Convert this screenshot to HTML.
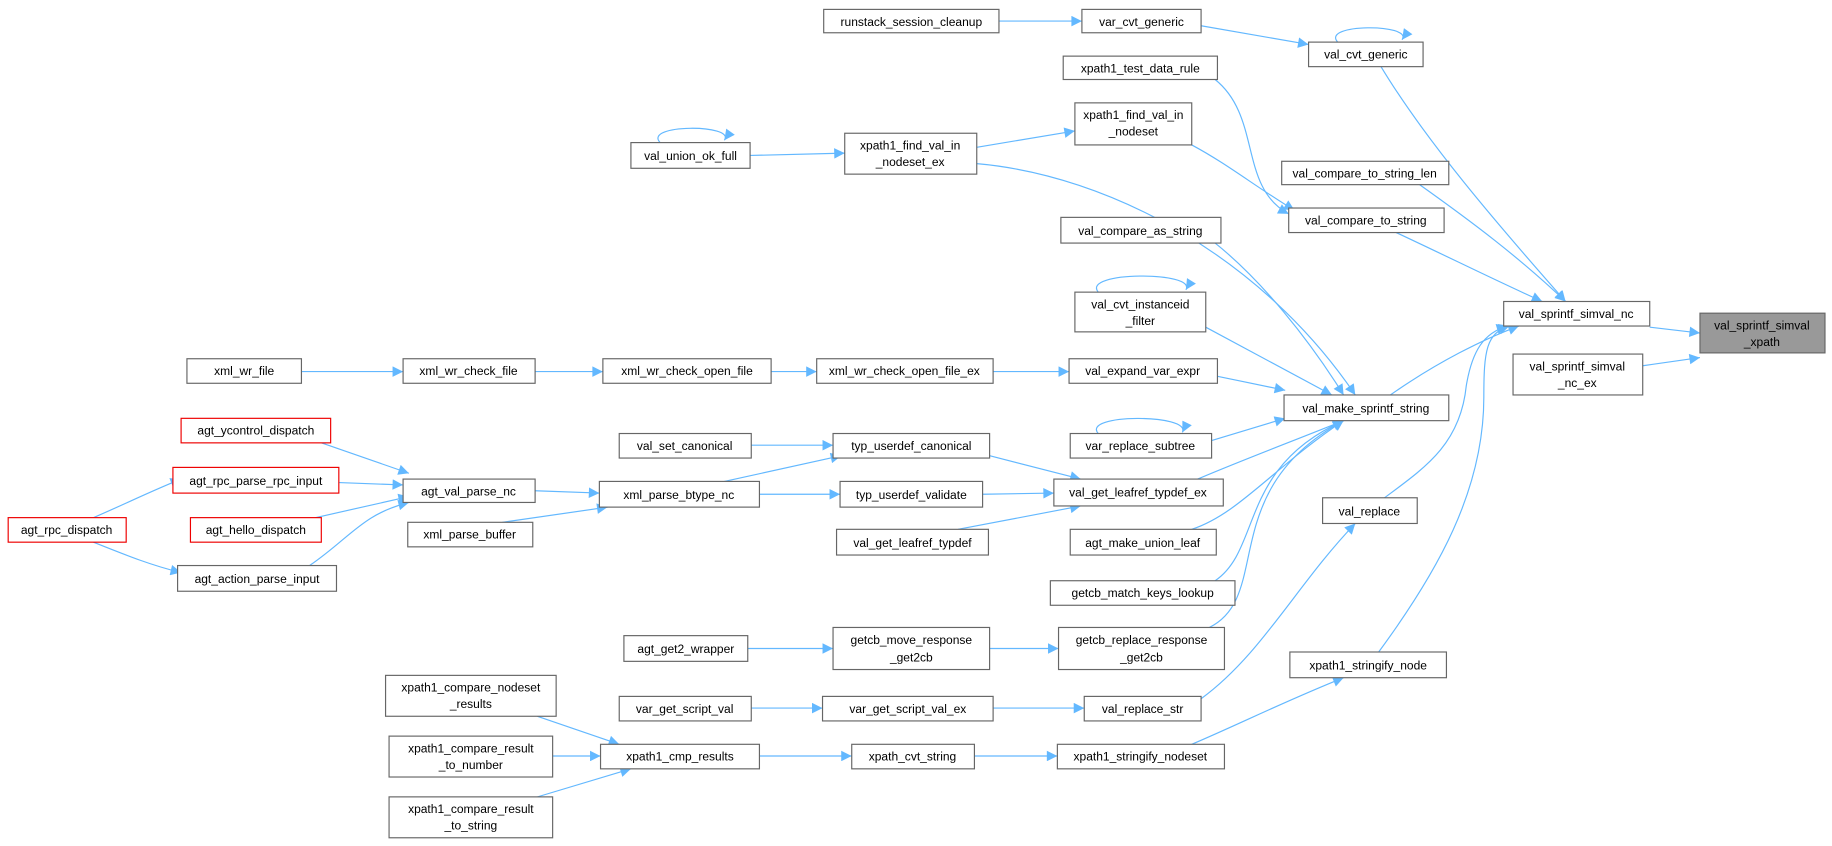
<!DOCTYPE html>
<html><head><meta charset="utf-8"><style>
html,body{margin:0;padding:0;background:#fff;width:1832px;height:846px;overflow:hidden}
svg text{font-family:"Liberation Sans",Arial,sans-serif;font-size:10.3px;fill:#000}
.n{fill:#fff;stroke:#666;stroke-width:1}
.r{fill:#fff;stroke:#e00;stroke-width:1}
.g{fill:#999;stroke:#666;stroke-width:1}
.e{fill:none;stroke:#63b8ff;stroke-width:1;marker-end:url(#a)}
</style></head><body>
<svg width="1832" height="846" viewBox="0 0 1568 724" xmlns="http://www.w3.org/2000/svg">
<defs><marker id="a" viewBox="0 0 10 10" refX="10" refY="5" markerWidth="12" markerHeight="9" markerUnits="userSpaceOnUse" orient="auto"><path d="M0,0L10,5L0,10z" fill="#63b8ff"/></marker></defs>
<g text-anchor="middle">
<path class="e" d="M855,18L926,18"/>
<path class="e" d="M1028,22L1120,38"/>
<path class="e" d="M1145,36C1130,20 1210,20 1200,34"/>
<path class="e" d="M1182,57C1220,120 1280,190 1340,258"/>
<path class="e" d="M1040,68C1080,100 1060,160 1103,183"/>
<path class="e" d="M1020,124C1050,140 1075,160 1108,180"/>
<path class="e" d="M565,122C550,106 630,106 620,120"/>
<path class="e" d="M642,133L723,131"/>
<path class="e" d="M836,126L920,112"/>
<path class="e" d="M836,140C950,150 1080,220 1160,338"/>
<path class="e" d="M1215,158C1260,190 1300,220 1340,258"/>
<path class="e" d="M1195,199C1240,220 1280,240 1320,258"/>
<path class="e" d="M1040,208C1080,240 1120,290 1150,338"/>
<path class="e" d="M940,250C925,232 1025,232 1015,248"/>
<path class="e" d="M1032,280L1140,338"/>
<path class="e" d="M1042,322L1100,334"/>
<path class="e" d="M940,371C925,354 1020,354 1012,370"/>
<path class="e" d="M1037,377L1100,358"/>
<path class="e" d="M1025,410C1060,395 1100,380 1150,360"/>
<path class="e" d="M1020,453C1060,440 1090,400 1150,360"/>
<path class="e" d="M1040,497C1080,470 1060,400 1150,360"/>
<path class="e" d="M1035,537C1090,510 1040,420 1150,360"/>
<path class="e" d="M1190,338C1230,310 1270,290 1300,279"/>
<path class="e" d="M1185,426C1220,400 1250,380 1255,330C1260,300 1270,285 1290,279"/>
<path class="e" d="M1180,558C1230,490 1270,420 1270,340C1270,300 1272,285 1292,279"/>
<path class="e" d="M1412,280L1455,285"/>
<path class="e" d="M1406,313L1455,306"/>
<path class="e" d="M258,318L345,318"/>
<path class="e" d="M458,318L516,318"/>
<path class="e" d="M660,318L699,318"/>
<path class="e" d="M850,318L915,318"/>
<path class="e" d="M275,379L350,405"/>
<path class="e" d="M290,413L345,415"/>
<path class="e" d="M270,443L350,425"/>
<path class="e" d="M265,484C300,460 310,440 350,430"/>
<path class="e" d="M80,443C110,430 130,420 155,410"/>
<path class="e" d="M80,464C110,476 130,484 155,490"/>
<path class="e" d="M458,420L513,422"/>
<path class="e" d="M430,447L520,434"/>
<path class="e" d="M643,381L713,381"/>
<path class="e" d="M620,412L720,390"/>
<path class="e" d="M650,423L719,423"/>
<path class="e" d="M847,390L925,410"/>
<path class="e" d="M841,423L902,422"/>
<path class="e" d="M820,453L925,433"/>
<path class="e" d="M640,555L713,555"/>
<path class="e" d="M847,555L906,555"/>
<path class="e" d="M1028,598C1080,560 1110,500 1160,448"/>
<path class="e" d="M643,606L704,606"/>
<path class="e" d="M850,606L928,606"/>
<path class="e" d="M460,613L530,637"/>
<path class="e" d="M473,647L514,647"/>
<path class="e" d="M460,682L540,658"/>
<path class="e" d="M650,647L729,647"/>
<path class="e" d="M834,647L905,647"/>
<path class="e" d="M1020,637C1060,620 1100,600 1150,580"/>
<rect class="n" x="705" y="8" width="150" height="20"/><text x="780" y="22">runstack_session_cleanup</text>
<rect class="n" x="926" y="8" width="102" height="20"/><text x="977" y="22">var_cvt_generic</text>
<rect class="n" x="1120" y="36" width="98" height="21"/><text x="1169" y="50">val_cvt_generic</text>
<rect class="n" x="910" y="48" width="132" height="20"/><text x="976" y="62">xpath1_test_data_rule</text>
<rect class="n" x="920" y="88" width="100" height="36"/><text x="970" y="102">xpath1_find_val_in</text><text x="970" y="116">_nodeset</text>
<rect class="n" x="540" y="122" width="102" height="22"/><text x="591" y="137">val_union_ok_full</text>
<rect class="n" x="723" y="114" width="113" height="35"/><text x="779" y="128">xpath1_find_val_in</text><text x="779" y="142">_nodeset_ex</text>
<rect class="n" x="1097" y="138" width="143" height="20"/><text x="1168" y="152">val_compare_to_string_len</text>
<rect class="n" x="1103" y="178" width="133" height="21"/><text x="1169" y="192">val_compare_to_string</text>
<rect class="n" x="908" y="186" width="137" height="22"/><text x="976" y="201">val_compare_as_string</text>
<rect class="n" x="920" y="250" width="112" height="34"/><text x="976" y="264">val_cvt_instanceid</text><text x="976" y="278">_filter</text>
<rect class="n" x="1287" y="258" width="125" height="21"/><text x="1349" y="272">val_sprintf_simval_nc</text>
<rect class="g" x="1455" y="268" width="107" height="34"/><text x="1508" y="282">val_sprintf_simval</text><text x="1508" y="296">_xpath</text>
<rect class="n" x="1295" y="303" width="111" height="35"/><text x="1350" y="317">val_sprintf_simval</text><text x="1350" y="331">_nc_ex</text>
<rect class="n" x="160" y="307" width="98" height="21"/><text x="209" y="321">xml_wr_file</text>
<rect class="n" x="345" y="307" width="113" height="21"/><text x="401" y="321">xml_wr_check_file</text>
<rect class="n" x="516" y="307" width="144" height="21"/><text x="588" y="321">xml_wr_check_open_file</text>
<rect class="n" x="699" y="307" width="151" height="21"/><text x="774" y="321">xml_wr_check_open_file_ex</text>
<rect class="n" x="915" y="307" width="127" height="21"/><text x="978" y="321">val_expand_var_expr</text>
<rect class="n" x="1099" y="338" width="141" height="22"/><text x="1169" y="353">val_make_sprintf_string</text>
<rect class="r" x="155" y="358" width="128" height="21"/><text x="219" y="372">agt_ycontrol_dispatch</text>
<rect class="n" x="530" y="371" width="113" height="21"/><text x="586" y="385">val_set_canonical</text>
<rect class="n" x="713" y="371" width="134" height="21"/><text x="780" y="385">typ_userdef_canonical</text>
<rect class="n" x="916" y="371" width="121" height="21"/><text x="976" y="385">var_replace_subtree</text>
<rect class="r" x="148" y="400" width="142" height="22"/><text x="219" y="415">agt_rpc_parse_rpc_input</text>
<rect class="n" x="345" y="410" width="113" height="20"/><text x="401" y="424">agt_val_parse_nc</text>
<rect class="n" x="513" y="412" width="137" height="22"/><text x="581" y="427">xml_parse_btype_nc</text>
<rect class="n" x="719" y="412" width="122" height="22"/><text x="780" y="427">typ_userdef_validate</text>
<rect class="n" x="902" y="410" width="145" height="23"/><text x="974" y="425">val_get_leafref_typdef_ex</text>
<rect class="n" x="1132" y="426" width="81" height="22"/><text x="1172" y="441">val_replace</text>
<rect class="r" x="7" y="443" width="101" height="21"/><text x="57" y="457">agt_rpc_dispatch</text>
<rect class="r" x="163" y="443" width="112" height="21"/><text x="219" y="457">agt_hello_dispatch</text>
<rect class="n" x="349" y="447" width="107" height="21"/><text x="402" y="461">xml_parse_buffer</text>
<rect class="n" x="716" y="453" width="130" height="22"/><text x="781" y="468">val_get_leafref_typdef</text>
<rect class="n" x="916" y="453" width="125" height="22"/><text x="978" y="468">agt_make_union_leaf</text>
<rect class="n" x="152" y="484" width="136" height="22"/><text x="220" y="499">agt_action_parse_input</text>
<rect class="n" x="899" y="497" width="158" height="21"/><text x="978" y="511">getcb_match_keys_lookup</text>
<rect class="n" x="534" y="544" width="106" height="22"/><text x="587" y="559">agt_get2_wrapper</text>
<rect class="n" x="713" y="537" width="134" height="36"/><text x="780" y="551">getcb_move_response</text><text x="780" y="566">_get2cb</text>
<rect class="n" x="906" y="537" width="142" height="36"/><text x="977" y="551">getcb_replace_response</text><text x="977" y="566">_get2cb</text>
<rect class="n" x="1104" y="558" width="134" height="22"/><text x="1171" y="573">xpath1_stringify_node</text>
<rect class="n" x="330" y="578" width="146" height="35"/><text x="403" y="592">xpath1_compare_nodeset</text><text x="403" y="606">_results</text>
<rect class="n" x="530" y="596" width="113" height="21"/><text x="586" y="610">var_get_script_val</text>
<rect class="n" x="704" y="596" width="146" height="21"/><text x="777" y="610">var_get_script_val_ex</text>
<rect class="n" x="928" y="596" width="100" height="21"/><text x="978" y="610">val_replace_str</text>
<rect class="n" x="514" y="637" width="136" height="21"/><text x="582" y="651">xpath1_cmp_results</text>
<rect class="n" x="333" y="630" width="140" height="35"/><text x="403" y="644">xpath1_compare_result</text><text x="403" y="658">_to_number</text>
<rect class="n" x="729" y="637" width="105" height="21"/><text x="781" y="651">xpath_cvt_string</text>
<rect class="n" x="905" y="637" width="143" height="21"/><text x="976" y="651">xpath1_stringify_nodeset</text>
<rect class="n" x="333" y="682" width="140" height="35"/><text x="403" y="696">xpath1_compare_result</text><text x="403" y="710">_to_string</text>
</g>
</svg>
</body></html>
